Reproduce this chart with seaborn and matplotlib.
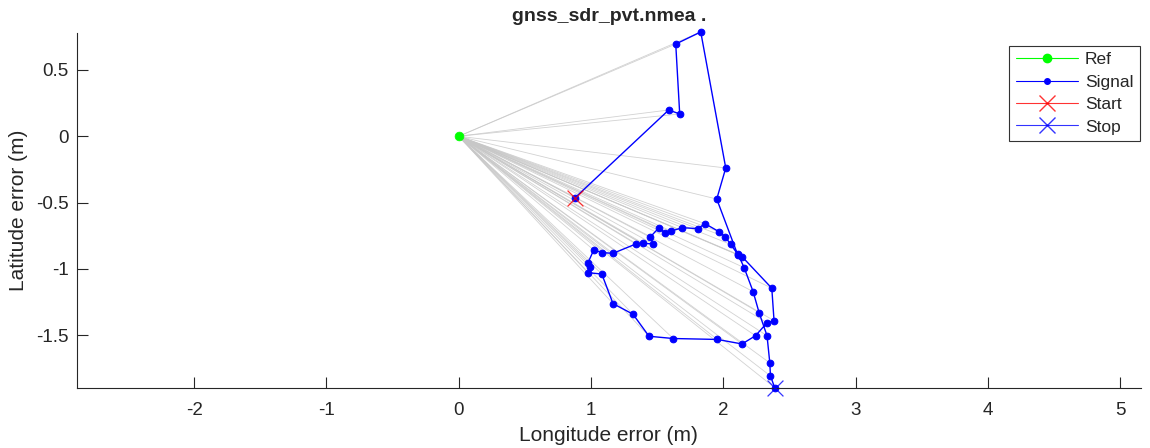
import numpy as np
import pandas as pd
import matplotlib.pyplot as plt
import seaborn as sns
from matplotlib.lines import Line2D

# Reference position (origin of the error plot)
ref_lon = [0.0]
ref_lat = [0.0]

# Position error track (m)
lon_err = [0.877, 1.587, 1.670, 1.640, 1.829, 2.018, 1.950, 2.107, 2.141, 2.366,
           2.383, 2.330, 2.243, 2.141, 1.954, 1.621, 1.438, 1.317, 1.166, 1.081,
           0.977, 0.990, 0.977, 1.020, 1.086, 1.166, 1.338, 1.393, 1.469, 1.449,
           1.514, 1.560, 1.605, 1.691, 1.806, 1.862, 1.967, 2.016, 2.054, 2.113,
           2.157, 2.225, 2.270, 2.330, 2.351, 2.356, 2.388]
lat_err = [-0.465, 0.198, 0.168, 0.695, 0.786, -0.239, -0.473, -0.889, -0.907, -1.145,
           -1.390, -1.405, -1.503, -1.565, -1.531, -1.524, -1.507, -1.341, -1.261, -1.038,
           -1.028, -0.983, -0.953, -0.857, -0.877, -0.882, -0.812, -0.806, -0.812, -0.757,
           -0.689, -0.731, -0.714, -0.689, -0.696, -0.659, -0.719, -0.759, -0.814, -0.894,
           -0.990, -1.171, -1.329, -1.503, -1.708, -1.806, -1.895]

sns.set_style("white")
plt.rcParams["font.family"] = ["Liberation Sans", "DejaVu Sans"]
plt.rcParams["axes.unicode_minus"] = False

fig = plt.figure(figsize=(11.5, 4.48), dpi=100)
ax = fig.add_axes([0.067, 0.1333, 0.925, 0.793])

# grey rays from the reference point to every fix
rays = pd.DataFrame({
    "unit": np.repeat(np.arange(len(lon_err)), 2),
    "x": [v for lo in lon_err for v in (ref_lon[0], lo)],
    "y": [v for la in lat_err for v in (ref_lat[0], la)],
})
sns.lineplot(data=rays, x="x", y="y", units="unit", estimator=None, sort=False,
             color="0.78", lw=0.6, alpha=0.8, legend=False, ax=ax)

# signal track
sns.lineplot(x=lon_err, y=lat_err, sort=False, estimator=None, color="blue",
             lw=1.0, marker="o", markersize=4.8, markeredgecolor="blue", ax=ax)
ax.lines[-1].set_clip_on(False)

# ref, start, stop
sns.scatterplot(x=ref_lon, y=ref_lat, color="#00ff00", s=40, edgecolor="#00ff00",
                zorder=5, ax=ax)
sns.scatterplot(x=lon_err[:1], y=lat_err[:1], color="red", marker="x", s=130,
                linewidth=0.9, alpha=0.8, zorder=6, ax=ax)
sns.scatterplot(x=lon_err[-1:], y=lat_err[-1:], color="blue", marker="x", s=130,
                linewidth=0.9, alpha=0.8, zorder=6, ax=ax)
ax.collections[-1].set_clip_on(False)

ax.set_xlim(-2.885, 5.155)
ax.set_ylim(-1.899, 0.778)
ax.set_xticks([-2, -1, 0, 1, 2, 3, 4, 5])
ax.set_yticks([-1.5, -1, -0.5, 0, 0.5])
ax.set_yticklabels(["-1.5", "-1", "-0.5", "0", "0.5"])

sns.despine(ax=ax)
for s in ["left", "bottom"]:
    ax.spines[s].set_color("0.15")
    ax.spines[s].set_linewidth(0.8)
ax.tick_params(bottom=True, left=True, direction="in", length=8, width=0.8,
               colors="0.15", labelsize=13.5, pad=6)
ax.tick_params(axis="x", pad=10)

ax.set_xlabel("Longitude error (m)", fontsize=15, color="0.15", labelpad=5)
ax.set_ylabel("Latitude error (m)", fontsize=15, color="0.15", labelpad=6)
ax.set_title("gnss_sdr_pvt.nmea .", fontsize=14, fontweight="bold", pad=9)

handles = [
    Line2D([], [], color="#00ff00", lw=0.8, marker="o", markersize=6),
    Line2D([], [], color="blue", lw=0.8, marker="o", markersize=4),
    Line2D([], [], color="red", lw=0.8, marker="x", markersize=12, alpha=0.8),
    Line2D([], [], color="blue", lw=0.8, marker="x", markersize=12, alpha=0.8),
]
leg = ax.legend(handles, ["Ref", "Signal", "Start", "Stop"], loc="upper right",
                bbox_to_anchor=(1.007, 0.988), fontsize=12.5, handlelength=3.6,
                handletextpad=0.4, borderpad=0.35, labelspacing=0.42,
                fancybox=False, framealpha=1, edgecolor="0.2")
leg.get_frame().set_linewidth(0.8)

fig.savefig("out.png", dpi=100)
